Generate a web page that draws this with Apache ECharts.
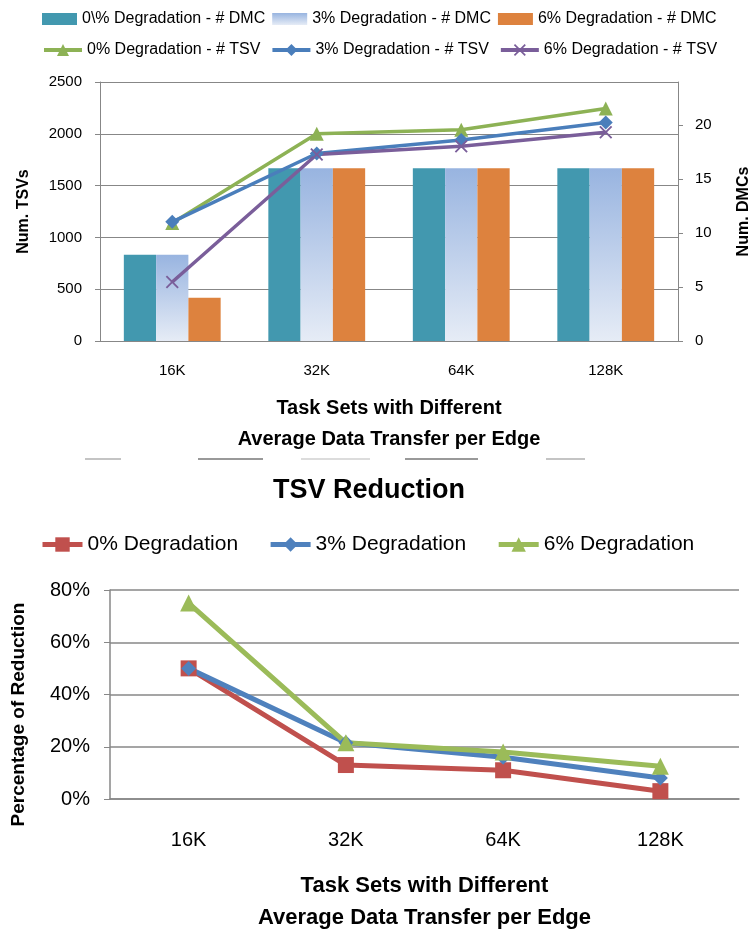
<!DOCTYPE html>
<html>
<head>
<meta charset="utf-8">
<script src="https://cdn.jsdelivr.net/npm/echarts@6/dist/echarts.min.js"></script>
<style>
  html, body { margin: 0; padding: 0; background: #fff; }
  #chart { width: 752px; height: 934px; }
</style>
</head>
<body>
<div id="chart"></div>
<script>
// data
const categories = ['16K', '32K', '64K', '128K']

// top chart: DMC counts (right axis) and TSV counts (left axis)
const dmc0 = [8, 16, 16, 16]
const dmc3 = [8, 16, 16, 16]
const dmc6 = [4, 16, 16, 16]
const tsv0 = [1140, 2000, 2040, 2245]
const tsv3 = [1150, 1810, 1940, 2110]
const tsv6 = [570, 1800, 1880, 2015]
const tsvTicks = [0, 500, 1000, 1500, 2000, 2500]
const dmcTicks = [0, 5, 10, 15, 20]

// bottom chart: percentage of TSV reduction
const red0 = [50, 13, 11, 3]
const red3 = [50, 21.5, 16, 8]
const red6 = [75, 21.5, 18, 12.5]

const font = 'Liberation Sans, Arial, sans-serif'
const axisGrey = '#878787'
const xSymbol = 'path://M1,0L5,4L9,0L10,1L6,5L10,9L9,10L5,6L1,10L0,9L4,5L0,1Z'

const chart = echarts.init(document.getElementById('chart'))

const option = {
  animation: false,
  textStyle: { fontFamily: font, color: '#000' },
  title: {
    text: 'TSV Reduction',
    left: 268,
    top: 472,
    textStyle: { fontFamily: font, fontSize: 27, fontWeight: 'bold', color: '#000' }
  },
  legend: [
    {
      data: ['0\\% Degradation - # DMC', '3% Degradation - # DMC', '6% Degradation - # DMC'],
      left: 37, top: 6,
      itemWidth: 35, itemHeight: 12, itemGap: 7,
      icon: 'rect',
      textStyle: { fontSize: 16, color: '#000' }
    },
    {
      data: ['0% Degradation - # TSV', '3% Degradation - # TSV', '6% Degradation - # TSV'],
      left: 37, top: 37,
      itemWidth: 38, itemHeight: 15, itemGap: 10,
      lineStyle: { width: 4 },
      textStyle: { fontSize: 16, color: '#000' }
    },
    {
      data: ['0% Degradation', '3% Degradation', '6% Degradation'],
      left: 35, top: 529,
      itemWidth: 40, itemHeight: 18, itemGap: 30,
      lineStyle: { width: 5 },
      textStyle: { fontSize: 21, color: '#000' }
    }
  ],
  grid: [
    { left: 100, right: 74, top: 82, bottom: 593, outerBoundsMode: 'none' },
    { left: 110, right: 13, top: 590, bottom: 135, outerBoundsMode: 'none' }
  ],
  xAxis: [
    {
      type: 'category', gridIndex: 0, data: categories,
      axisLine: { lineStyle: { color: axisGrey } },
      axisTick: { lineStyle: { color: axisGrey }, length: 5 },
      axisLabel: { fontSize: 15, color: '#000', margin: 22 },
      name: 'Task Sets with Different\nAverage Data Transfer per Edge',
      nameLocation: 'middle', nameGap: 52,
      nameTextStyle: { fontSize: 20, fontWeight: 'bold', lineHeight: 31, color: '#000' }
    },
    {
      type: 'category', gridIndex: 1, data: categories,
      axisLine: { lineStyle: { color: axisGrey, width: 1.5 } },
      axisTick: { lineStyle: { color: axisGrey }, length: 6 },
      axisLabel: { fontSize: 20, color: '#000', margin: 31 },
      name: 'Task Sets with Different\nAverage Data Transfer per Edge',
      nameLocation: 'middle', nameGap: 71,
      nameTextStyle: { fontSize: 22, fontWeight: 'bold', lineHeight: 32, color: '#000' }
    }
  ],
  yAxis: [
    {
      type: 'value', gridIndex: 0, min: 0, max: 2500, interval: 500,
      axisLine: { show: true, lineStyle: { color: axisGrey } },
      axisTick: { show: true, length: 5, lineStyle: { color: axisGrey }, customValues: tsvTicks },
      axisLabel: { fontSize: 15, color: '#000', margin: 18, formatter: v => String(v) },
      splitLine: { lineStyle: { color: axisGrey } },
      name: 'Num. TSVs', nameLocation: 'middle', nameGap: 68, nameRotate: 90,
      nameTextStyle: { fontSize: 16, fontWeight: 'bold', color: '#000' }
    },
    {
      type: 'value', gridIndex: 0, min: 0, max: 24, interval: 5, position: 'right',
      axisLine: { show: true, lineStyle: { color: axisGrey } },
      axisTick: { show: true, length: 5, lineStyle: { color: axisGrey }, customValues: dmcTicks },
      axisLabel: { fontSize: 15, color: '#000', margin: 17, customValues: dmcTicks },
      splitLine: { show: false },
      name: 'Num. DMCs', nameLocation: 'middle', nameGap: 58, nameRotate: 90,
      nameTextStyle: { fontSize: 16, fontWeight: 'bold', color: '#000' }
    },
    {
      type: 'value', gridIndex: 1, min: 0, max: 80, interval: 20,
      axisLine: { show: true, lineStyle: { color: axisGrey, width: 1.5 } },
      axisTick: { show: true, length: 6, lineStyle: { color: axisGrey } },
      axisLabel: { fontSize: 20, color: '#000', margin: 20, formatter: '{value}%' },
      splitLine: { lineStyle: { color: axisGrey, width: 1.5 } },
      name: 'Percentage of Reduction', nameLocation: 'middle', nameGap: 82, nameRotate: 90,
      nameTextStyle: { fontSize: 19, fontWeight: 'bold', color: '#000', padding: [0, 40, 0, 0] }
    }
  ],
  series: [
    {
      name: '0\\% Degradation - # DMC', type: 'bar', xAxisIndex: 0, yAxisIndex: 1,
      data: dmc0, barGap: 0, barCategoryGap: '33%',
      itemStyle: { color: '#4298AF' }
    },
    {
      name: '3% Degradation - # DMC', type: 'bar', xAxisIndex: 0, yAxisIndex: 1,
      data: dmc3, barGap: 0, barCategoryGap: '33%',
      itemStyle: {
        color: new echarts.graphic.LinearGradient(0, 0, 0, 1, [
          { offset: 0, color: '#98B4E0' },
          { offset: 1, color: '#E6ECF6' }
        ])
      }
    },
    {
      name: '6% Degradation - # DMC', type: 'bar', xAxisIndex: 0, yAxisIndex: 1,
      data: dmc6, barGap: 0, barCategoryGap: '33%',
      itemStyle: { color: '#DD823E' }
    },
    {
      name: '0% Degradation - # TSV', type: 'line', xAxisIndex: 0, yAxisIndex: 0,
      data: tsv0, symbol: 'triangle', symbolSize: 14,
      lineStyle: { width: 3.5, color: '#8DB255' }, itemStyle: { color: '#8DB255' }
    },
    {
      name: '3% Degradation - # TSV', type: 'line', xAxisIndex: 0, yAxisIndex: 0,
      data: tsv3, symbol: 'diamond', symbolSize: 14,
      lineStyle: { width: 3.5, color: '#4A7EBB' }, itemStyle: { color: '#4A7EBB' }
    },
    {
      name: '6% Degradation - # TSV', type: 'line', xAxisIndex: 0, yAxisIndex: 0,
      data: tsv6, symbol: xSymbol, symbolSize: 13,
      lineStyle: { width: 3.5, color: '#7A5E9A' }, itemStyle: { color: '#7A5E9A' }
    },
    {
      name: '0% Degradation', type: 'line', xAxisIndex: 1, yAxisIndex: 2,
      data: red0, symbol: 'rect', symbolSize: 16,
      lineStyle: { width: 5, color: '#C0504D' }, itemStyle: { color: '#C0504D' }
    },
    {
      name: '3% Degradation', type: 'line', xAxisIndex: 1, yAxisIndex: 2,
      data: red3, symbol: 'diamond', symbolSize: 15,
      lineStyle: { width: 5, color: '#4F81BD' }, itemStyle: { color: '#4F81BD' }
    },
    {
      name: '6% Degradation', type: 'line', xAxisIndex: 1, yAxisIndex: 2,
      data: red6, symbol: 'triangle', symbolSize: 17,
      lineStyle: { width: 5, color: '#9BBB59' }, itemStyle: { color: '#9BBB59' }
    }
  ],
  // faint grey strip left over between the two figures
  graphic: [
    { type: 'rect', shape: { x: 85, y: 458, width: 36, height: 2 }, style: { fill: '#c4c4c4' } },
    { type: 'rect', shape: { x: 198, y: 458, width: 65, height: 2 }, style: { fill: '#999999' } },
    { type: 'rect', shape: { x: 301, y: 458, width: 69, height: 2 }, style: { fill: '#dcdcdc' } },
    { type: 'rect', shape: { x: 405, y: 458, width: 73, height: 2 }, style: { fill: '#999999' } },
    { type: 'rect', shape: { x: 546, y: 458, width: 39, height: 2 }, style: { fill: '#c4c4c4' } }
  ]
}

chart.setOption(option)
window.addEventListener('resize', function() {
  chart.resize()
})
</script>
</body>
</html>
